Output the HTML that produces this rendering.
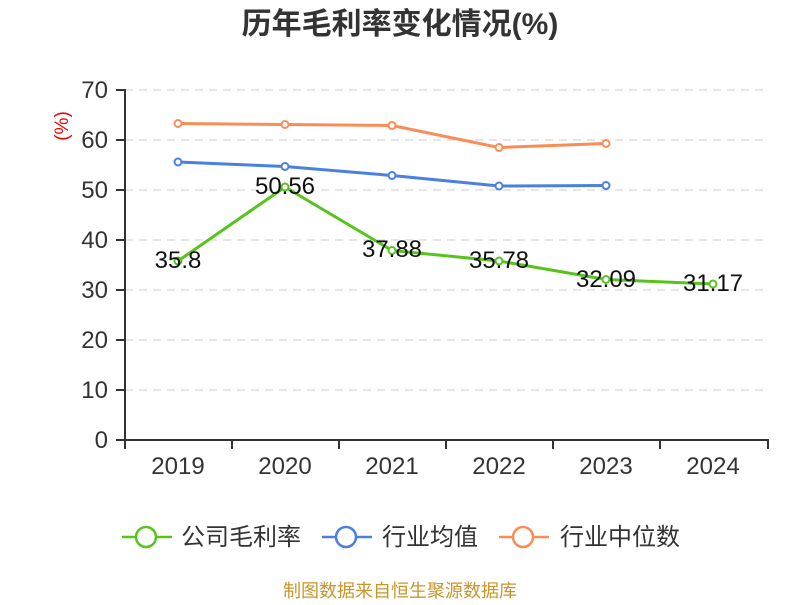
<!DOCTYPE html>
<html><head><meta charset="utf-8"><style>
html,body{margin:0;padding:0;background:#fff;}
svg text{font-family:"Liberation Sans","Noto Sans CJK SC",sans-serif;}
</style></head><body>
<svg width="800" height="600" viewBox="0 0 800 600" xmlns="http://www.w3.org/2000/svg">
<text x="400" y="34" text-anchor="middle" font-size="30" font-weight="bold" fill="#333">历年毛利率变化情况(%)</text>
<g stroke="#ccc" stroke-width="1" stroke-dasharray="8,6">
<line x1="125" y1="90" x2="768" y2="90"/><line x1="125" y1="140" x2="768" y2="140"/>
<line x1="125" y1="190" x2="768" y2="190"/><line x1="125" y1="240" x2="768" y2="240"/>
<line x1="125" y1="290" x2="768" y2="290"/><line x1="125" y1="340" x2="768" y2="340"/>
<line x1="125" y1="390" x2="768" y2="390"/>
</g>
<g stroke="#333" stroke-width="2" fill="none">
<line x1="125" y1="89" x2="125" y2="441"/>
<line x1="124" y1="440" x2="769" y2="440"/>
<path d="M116 90H125M116 140H125M116 190H125M116 240H125M116 290H125M116 340H125M116 390H125M116 440H125"/>
<path d="M125 440V449M232 440V449M339 440V449M446 440V449M553 440V449M660 440V449M768 440V449"/>
</g>
<g font-size="24" fill="#333" text-anchor="end">
<text x="108" y="98">70</text><text x="108" y="148">60</text><text x="108" y="198">50</text>
<text x="108" y="248">40</text><text x="108" y="298">30</text><text x="108" y="348">20</text>
<text x="108" y="398">10</text><text x="108" y="448">0</text>
</g>
<text transform="translate(68,126) rotate(-90)" text-anchor="middle" font-size="19" fill="#e00">(%)</text>
<g font-size="24" fill="#333" text-anchor="middle">
<text x="178" y="474">2019</text><text x="285" y="474">2020</text><text x="392" y="474">2021</text>
<text x="499" y="474">2022</text><text x="606" y="474">2023</text><text x="713" y="474">2024</text>
</g>
<g fill="none" stroke-width="3">
<polyline stroke="#fb8c56" points="178,123.5 285,124.5 392,125.5 499,147.5 606,143.5"/>
<polyline stroke="#4a80e0" points="178,162 285,166.5 392,175.5 499,186 606,185.5"/>
<polyline stroke="#57c41d" points="178,261 285,187 392,250.5 499,261 606,279.5 713,284"/>
</g>
<g fill="#fff" stroke-width="2">
<g stroke="#fb8c56"><circle cx="178" cy="123.5" r="3.5"/><circle cx="285" cy="124.5" r="3.5"/><circle cx="392" cy="125.5" r="3.5"/><circle cx="499" cy="147.5" r="3.5"/><circle cx="606" cy="143.5" r="3.5"/></g>
<g stroke="#4a80e0"><circle cx="178" cy="162" r="3.5"/><circle cx="285" cy="166.5" r="3.5"/><circle cx="392" cy="175.5" r="3.5"/><circle cx="499" cy="186" r="3.5"/><circle cx="606" cy="185.5" r="3.5"/></g>
<g stroke="#57c41d"><circle cx="178" cy="261" r="3.5"/><circle cx="285" cy="187" r="3.5"/><circle cx="392" cy="250.5" r="3.5"/><circle cx="499" cy="261" r="3.5"/><circle cx="606" cy="279.5" r="3.5"/><circle cx="713" cy="284" r="3.5"/></g>
</g>
<g font-size="24" fill="#111" text-anchor="middle">
<text x="178" y="268">35.8</text><text x="285" y="194">50.56</text><text x="392" y="257">37.88</text>
<text x="499" y="268">35.78</text><text x="606" y="287">32.09</text><text x="713" y="291">31.17</text>
</g>
<g stroke-width="2.5" fill="#fff">
<line x1="122" y1="537" x2="172" y2="537" stroke="#57c41d"/><circle cx="146" cy="537" r="10" stroke="#57c41d"/>
<line x1="322" y1="537" x2="372" y2="537" stroke="#4a80e0"/><circle cx="346" cy="537" r="10" stroke="#4a80e0"/>
<line x1="499" y1="537" x2="549" y2="537" stroke="#fb8c56"/><circle cx="523" cy="537" r="10" stroke="#fb8c56"/>
</g>
<g font-size="24" fill="#333">
<text x="181" y="545">公司毛利率</text><text x="382" y="545">行业均值</text><text x="560" y="545">行业中位数</text>
</g>
<text x="400" y="597" text-anchor="middle" font-size="18" fill="#c8952a">制图数据来自恒生聚源数据库</text>
</svg>
</body></html>
